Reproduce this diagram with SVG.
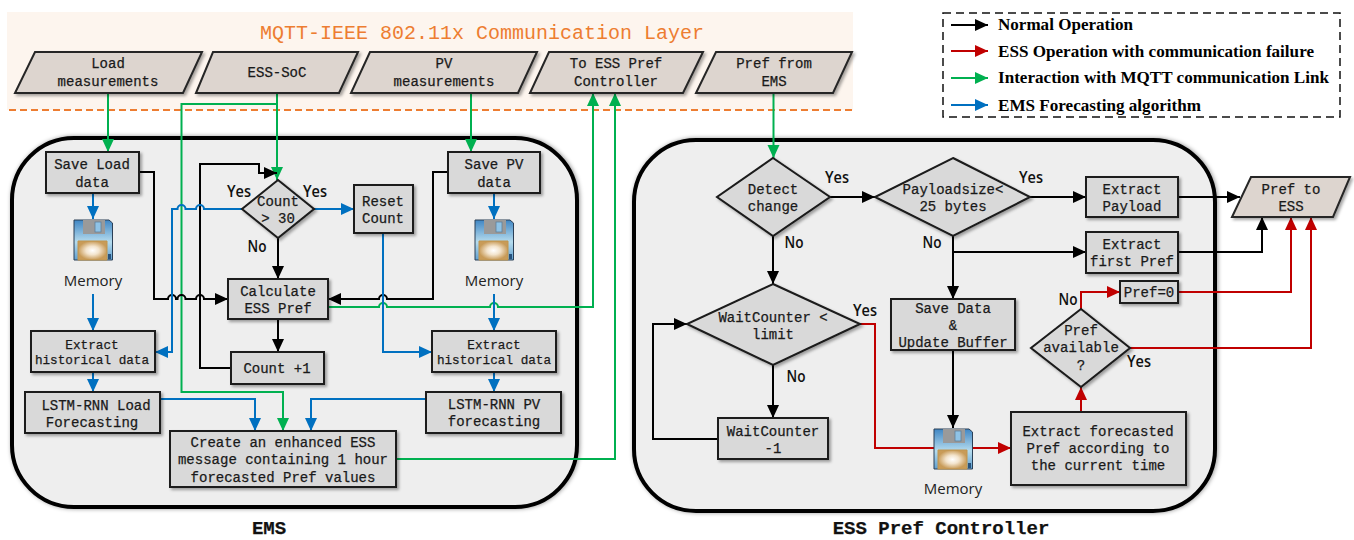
<svg xmlns="http://www.w3.org/2000/svg" xmlns:xlink="http://www.w3.org/1999/xlink" width="1354" height="540" viewBox="0 0 1354 540">
<style>
.box{fill:#d9d9d9;stroke:#1a1a1a;stroke-width:2;filter:url(#sh)}
.para{fill:#ddd5cf;stroke:#262626;stroke-width:2;filter:url(#sh)}
.cont{fill:#eeeeee;stroke:#000;stroke-width:4;filter:url(#shc)}
text{font-family:"Liberation Mono","Courier New",monospace;font-size:14px;fill:#1a1a1a;stroke:#1a1a1a;stroke-width:.25;text-anchor:middle}
.sm{font-size:12.7px}
.tt{font-weight:bold;font-size:19px;fill:#111}
.lbl{font-family:"Open Sans","Liberation Sans",sans-serif;font-weight:600;font-size:15.500px;fill:#111;stroke:none}
.mem{font-family:"Open Sans","Liberation Sans",sans-serif;font-size:15px;fill:#222;stroke:none}
.leg{font-family:"Liberation Serif","Times New Roman",serif;font-weight:bold;font-size:17px;text-anchor:start;fill:#000;stroke:none}
.c{fill:none;stroke-width:2}
.k{stroke:#000;marker-end:url(#ak)}
.g{stroke:#00b050;marker-end:url(#ag)}
.b{stroke:#0070c0;marker-end:url(#ab)}
.r{stroke:#c00000;marker-end:url(#ar)}
</style>
<defs>
<filter id="sh" x="-15%" y="-15%" width="135%" height="140%"><feDropShadow dx="2" dy="2" stdDeviation="1.4" flood-color="#000" flood-opacity=".35"/></filter>
<filter id="shc" x="-3%" y="-3%" width="106%" height="106%"><feDropShadow dx="1" dy="0" stdDeviation="2" flood-color="#000" flood-opacity=".4"/></filter>
<marker id="ak" markerUnits="userSpaceOnUse" markerWidth="15" markerHeight="15" refX="14" refY="7.500" orient="auto"><path d="M1 1.500L14 7.500L1 13.500z" fill="#000"/></marker>
<marker id="ag" markerUnits="userSpaceOnUse" markerWidth="15" markerHeight="15" refX="14" refY="7.500" orient="auto"><path d="M1 1.500L14 7.500L1 13.500z" fill="#00b050"/></marker>
<marker id="ab" markerUnits="userSpaceOnUse" markerWidth="15" markerHeight="15" refX="14" refY="7.500" orient="auto"><path d="M1 1.500L14 7.500L1 13.500z" fill="#0070c0"/></marker>
<marker id="ar" markerUnits="userSpaceOnUse" markerWidth="15" markerHeight="15" refX="14" refY="7.500" orient="auto"><path d="M1 1.500L14 7.500L1 13.500z" fill="#c00000"/></marker>
<linearGradient id="fb" x1="0" y1="0" x2="0" y2="1"><stop offset="0" stop-color="#3f86c4"/><stop offset=".55" stop-color="#b6dcee"/><stop offset="1" stop-color="#5f9fd0"/></linearGradient>
<radialGradient id="fl"><stop offset="0" stop-color="#fff"/><stop offset=".45" stop-color="#f3e4cd"/><stop offset="1" stop-color="#c89b58"/></radialGradient>
<symbol id="floppy" viewBox="0 0 40 42" width="40" height="42">
<path d="M1 1H36L39.500 4V41H1z" fill="url(#fb)" stroke="#2b3f55" stroke-width="1"/>
<rect x="10" y="1" width="22" height="14" fill="#9a9a9a"/>
<rect x="22" y="3" width="6" height="10" fill="#8fc3e6" stroke="#5f7f9a" stroke-width=".8"/>
<path d="M5 22H34V41H5z" fill="url(#fl)" stroke="#c0954f" stroke-width="1"/>
<rect x="35" y="35" width="3" height="5" fill="#27527c"/>
</symbol>
</defs>

<rect id="band" x="7" y="12" width="846" height="98" fill="#fdf5ee"/>
<line x1="9" y1="110" x2="853" y2="110" stroke="#ed7d31" stroke-width="2" stroke-dasharray="7 4"/>
<text x="482" y="39" style="font-size:20px;fill:#ed7d31;stroke:none">MQTT-IEEE 802.11x Communication Layer</text>

<rect id="ems-panel" class="cont" x="12" y="138" width="565" height="369" rx="62"/>
<rect id="ess-panel" class="cont" x="634" y="140" width="581" height="371" rx="62"/>

<g id="connectors">
<path class="c g" d="M108 93V152"/>
<path class="c g" d="M277 93V180"/>
<path class="c g" d="M277 104H181.500V392H283V431"/>
<path class="c g" d="M471 93V152"/>
<path class="c g" d="M328 307H379a4 4 0 0 1 8 0H490a4 4 0 0 1 8 0H593V93"/>
<path class="c g" d="M396 459H615V93"/>
<path class="c g" d="M773.500 93V158"/>

<path class="c k" d="M139 172H154V299H168a4 4 0 0 1 8 0H177.500a4 4 0 0 1 8 0H196a4 4 0 0 1 8 0H228"/>
<path class="c k" d="M231 368H200V164H259V173H277"/>
<path class="c k" d="M278 238V279"/>
<path class="c k" d="M278 319V352"/>
<path class="c k" d="M448 172H433V299H387a4 4 0 0 0 -8 0H328"/>

<path class="c b" d="M242 209H204a4 4 0 0 0 -8 0H185.500a4 4 0 0 0 -8 0H172V352H155"/>
<path class="c b" d="M314 209H354"/>
<path class="c b" d="M383 233V352H432"/>
<path class="c b" d="M93 193V219"/>
<path class="c b" d="M93 294V331"/>
<path class="c b" d="M93 372V392"/>
<path class="c b" d="M494 193V219"/>
<path class="c b" d="M494 294V331"/>
<path class="c b" d="M494 372V392"/>
<path class="c b" d="M160 399H255V431"/>
<path class="c b" d="M426 399H311V431"/>

<path class="c k" d="M830 197H875"/>
<path class="c k" d="M1030 197H1086"/>
<path class="c k" d="M1178 197H1240"/>
<path class="c k" d="M953 236V299"/>
<path class="c k" d="M953 252H1086"/>
<path class="c k" d="M1178 252H1262V217"/>
<path class="c k" d="M773 236V284"/>
<path class="c k" d="M773 365V418"/>
<path class="c k" d="M718 439H653V324H687"/>
<path class="c k" d="M953 350V428"/>

<path class="c r" d="M860 324H875V448H1011"/>
<path class="c r" d="M1081 412V387"/>
<path class="c r" d="M1081 309V292H1120"/>
<path class="c r" d="M1178 292H1291V217"/>
<path class="c r" d="M1130 348H1311V217"/>
</g>

<g id="n-load"><path class="para" d="M35 52H202L183 93H15z"/><text x="108" y="68">Load</text><text x="108" y="86">measurements</text></g>
<g id="n-soc"><path class="para" d="M213 52H358L339 93H196z"/><text x="277" y="77">ESS-SoC</text></g>
<g id="n-pv"><path class="para" d="M370 52H537L518 93H351z"/><text x="444" y="68">PV</text><text x="444" y="86">measurements</text></g>
<g id="n-toess"><path class="para" d="M549 52H703L683 93H530z"/><text x="616" y="68">To ESS Pref</text><text x="616" y="86">Controller</text></g>
<g id="n-from"><path class="para" d="M716 52H852L833 93H696z"/><text x="774" y="68">Pref from</text><text x="774" y="86">EMS</text></g>

<g id="n-saveload"><rect class="box" x="46" y="152" width="93" height="41"/><text x="92" y="169">Save Load</text><text x="92" y="187">data</text></g>
<g id="n-savepv"><rect class="box" x="448" y="152" width="92" height="41"/><text x="494" y="169">Save PV</text><text x="494" y="187">data</text></g>
<g id="n-count"><path class="box" d="M278 180L314 209L278 238L242 209z"/><text x="278" y="206">Count</text><text x="278" y="223">&gt; 30</text></g>
<g id="n-reset"><rect class="box" x="354" y="185" width="59" height="48"/><text x="383" y="206">Reset</text><text x="383" y="223">Count</text></g>
<g id="n-mem1"><use href="#floppy" xlink:href="#floppy" x="73" y="219"/><text class="mem" x="93" y="286">Memory</text></g>
<g id="n-mem2"><use href="#floppy" xlink:href="#floppy" x="474" y="219"/><text class="mem" x="494" y="286">Memory</text></g>
<g id="n-calc"><rect class="box" x="228" y="279" width="100" height="40"/><text x="278" y="296">Calculate</text><text x="278" y="313">ESS Pref</text></g>
<g id="n-hist1"><rect class="box" x="31" y="331" width="124" height="41"/><text class="sm" x="92" y="349">Extract</text><text class="sm" x="92" y="364">historical data</text></g>
<g id="n-hist2"><rect class="box" x="432" y="331" width="124" height="41"/><text class="sm" x="494" y="349">Extract</text><text class="sm" x="494" y="364">historical data</text></g>
<g id="n-plus"><rect class="box" x="231" y="352" width="93" height="32"/><text x="277" y="373">Count +1</text></g>
<g id="n-lstm1"><rect class="box" x="25" y="392" width="135" height="41"/><text x="96" y="410">LSTM-RNN Load</text><text x="92" y="427">Forecasting</text></g>
<g id="n-lstm2"><rect class="box" x="426" y="392" width="135" height="41"/><text x="494" y="409">LSTM-RNN PV</text><text x="494" y="426">forecasting</text></g>
<g id="n-create"><rect class="box" x="170" y="431" width="226" height="56"/><text x="283" y="447">Create an enhanced ESS</text><text x="283" y="464">message containing 1 hour</text><text x="283" y="482">forecasted Pref values</text></g>

<g id="n-detect"><path class="box" d="M773 158L830 197L773 236L717 197z"/><text x="773" y="194">Detect</text><text x="773" y="211">change</text></g>
<g id="n-payload"><path class="box" d="M953 158L1030 197L953 236L875 197z"/><text x="953" y="194">Payloadsize&lt;</text><text x="953" y="211">25 bytes</text></g>
<g id="n-exp"><rect class="box" x="1086" y="177" width="92" height="40"/><text x="1132" y="194">Extract</text><text x="1132" y="211">Payload</text></g>
<g id="n-exf"><rect class="box" x="1086" y="232" width="92" height="41"/><text x="1132" y="249">Extract</text><text x="1132" y="266">first Pref</text></g>
<g id="n-prefess"><path class="para" d="M1251 177H1350L1333 217H1232z"/><text x="1291" y="194">Pref to</text><text x="1291" y="211">ESS</text></g>
<g id="n-wait"><path class="box" d="M773 284L860 324L773 365L687 324z"/><text x="773" y="322">WaitCounter &lt;</text><text x="773" y="339">limit</text></g>
<g id="n-waitm"><rect class="box" x="718" y="418" width="110" height="41"/><text x="773" y="436">WaitCounter</text><text x="773" y="453">-1</text></g>
<g id="n-savedata"><rect class="box" x="891" y="299" width="124" height="51"/><text x="953" y="313">Save Data</text><text x="953" y="330">&amp;</text><text x="953" y="347">Update Buffer</text></g>
<g id="n-mem3"><use href="#floppy" xlink:href="#floppy" x="933" y="428"/><text class="mem" x="953" y="494">Memory</text></g>
<g id="n-exfc"><rect class="box" x="1011" y="412" width="175" height="73"/><text x="1098" y="436">Extract forecasted</text><text x="1098" y="453">Pref according to</text><text x="1098" y="470">the current time</text></g>
<g id="n-avail"><path class="box" d="M1081 309L1130 348L1081 387L1031 348z"/><text x="1081" y="335">Pref</text><text x="1081" y="352">available</text><text x="1081" y="370">?</text></g>
<g id="n-zero"><rect class="box" x="1120" y="281" width="58" height="22"/><text x="1149" y="297">Pref=0</text></g>

<g id="labels">
<text class="lbl" x="239" y="197" textLength="24" lengthAdjust="spacingAndGlyphs">Yes</text>
<text class="lbl" x="315" y="197" textLength="24" lengthAdjust="spacingAndGlyphs">Yes</text>
<text class="lbl" x="257" y="252" textLength="19" lengthAdjust="spacingAndGlyphs">No</text>
<text class="lbl" x="837" y="183" textLength="24" lengthAdjust="spacingAndGlyphs">Yes</text>
<text class="lbl" x="1031" y="183" textLength="24" lengthAdjust="spacingAndGlyphs">Yes</text>
<text class="lbl" x="794" y="248" textLength="19" lengthAdjust="spacingAndGlyphs">No</text>
<text class="lbl" x="932" y="248" textLength="19" lengthAdjust="spacingAndGlyphs">No</text>
<text class="lbl" x="865" y="316" textLength="24" lengthAdjust="spacingAndGlyphs">Yes</text>
<text class="lbl" x="796" y="382" textLength="19" lengthAdjust="spacingAndGlyphs">No</text>
<text class="lbl" x="1068" y="305" textLength="19" lengthAdjust="spacingAndGlyphs">No</text>
<text class="lbl" x="1139" y="367" textLength="24" lengthAdjust="spacingAndGlyphs">Yes</text>
<text class="tt" x="269" y="534">EMS</text>
<text class="tt" x="941" y="534">ESS Pref Controller</text>
</g>

<g id="legend">
<rect x="943" y="13" width="397" height="104" fill="none" stroke="#111" stroke-width="1.500" stroke-dasharray="8 5"/>
<path class="c k" d="M951 25H988"/>
<path class="c r" d="M951 51H988"/>
<path class="c g" d="M951 78H988"/>
<path class="c b" d="M951 105H988"/>
<text class="leg" x="998" y="30" textLength="135" lengthAdjust="spacingAndGlyphs">Normal Operation</text>
<text class="leg" x="998" y="57" textLength="316" lengthAdjust="spacingAndGlyphs">ESS Operation with communication failure</text>
<text class="leg" x="998" y="83" textLength="331" lengthAdjust="spacingAndGlyphs">Interaction with MQTT communication Link</text>
<text class="leg" x="998" y="111" textLength="203" lengthAdjust="spacingAndGlyphs">EMS Forecasting algorithm</text>
</g>
</svg>
